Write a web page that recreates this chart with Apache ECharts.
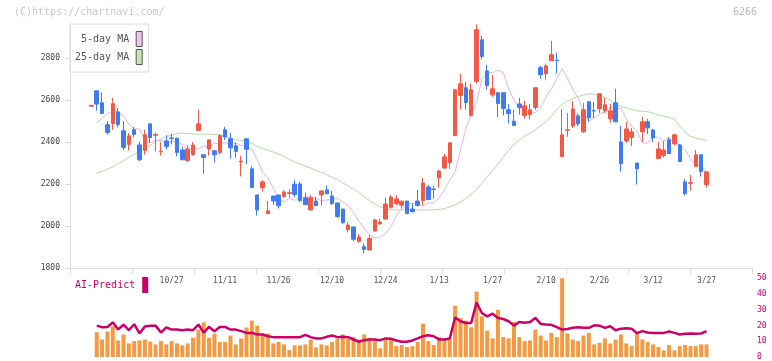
<!DOCTYPE html>
<html><head><meta charset="utf-8">
<script src="https://cdn.jsdelivr.net/npm/echarts@6/dist/echarts.min.js"></script>
<style>html,body{margin:0;padding:0;background:#fff}#c{width:772px;height:361px}</style>
</head><body><div id="c"></div>
<script>
const dates = ['10/3','10/6','10/7','10/8','10/9','10/10','10/14','10/15','10/16','10/17','10/20','10/21','10/22','10/23','10/24','10/27','10/28','10/29','10/30','10/31','11/4','11/5','11/6','11/7','11/10','11/11','11/12','11/13','11/14','11/17','11/18','11/19','11/20','11/21','11/25','11/26','11/27','11/28','12/1','12/2','12/3','12/4','12/5','12/8','12/9','12/10','12/11','12/12','12/15','12/16','12/17','12/18','12/19','12/22','12/23','12/24','12/25','12/26','12/29','12/30','1/5','1/6','1/7','1/8','1/9','1/13','1/14','1/15','1/16','1/19','1/20','1/21','1/22','1/23','1/26','1/27','1/28','1/29','1/30','2/2','2/3','2/4','2/5','2/6','2/9','2/10','2/12','2/13','2/16','2/17','2/18','2/19','2/20','2/24','2/25','2/26','2/27','3/2','3/3','3/4','3/5','3/6','3/9','3/10','3/11','3/12','3/13','3/16','3/17','3/18','3/19','3/23','3/24','3/25','3/26','3/27'];
const dateLabelIdx = [15,25,35,45,55,65,75,85,95,105,115];

const opens = [2571,2644,2587,2483,2489,2544,2454,2389,2459,2387,
2360,2487,2433,2354,2406,2420,2419,2363,2313,2341,
2456,2340,2368,2359,2351,2459,2416,2383,2306,2416,
2273,2149,2184,2060,2144,2149,2141,2156,2200,2201,
2135,2078,2120,2149,2173,2144,2111,2082,1984,1997,
1928,1903,1887,1978,2011,2035,2090,2108,2100,2120,
2082,2120,2122,2187,2177,2230,2277,2303,2431,2622,
2659,2527,2689,2887,2739,2625,2635,2635,2554,2500,
2582,2527,2531,2565,2754,2725,2787,2790,2331,2457,
2477,2525,2449,2592,2550,2558,2549,2511,2587,2401,
2406,2422,2301,2449,2497,2458,2322,2336,2411,2393,
2387,2211,2204,2284,2340,2198];
const closes = [2575,2581,2536,2446,2583,2484,2375,2430,2437,2316,
2435,2422,2436,2357,2379,2418,2351,2316,2368,2386,
2487,2327,2411,2340,2432,2424,2373,2356,2310,2366,
2184,2078,2211,2073,2120,2097,2163,2160,2151,2122,
2103,2135,2098,2168,2154,2108,2046,2017,2006,1938,
1949,1890,1943,2030,2020,2106,2139,2130,2119,2060,
2070,2098,2206,2127,2175,2263,2330,2397,2649,2678,
2589,2649,2935,2808,2670,2654,2584,2560,2536,2479,
2565,2573,2554,2659,2721,2763,2816,2788,2435,2459,
2558,2487,2554,2516,2548,2630,2578,2549,2497,2298,
2463,2449,2274,2497,2468,2420,2368,2363,2346,2435,
2308,2155,2207,2340,2260,2259];
const lows = [2570,2550,2536,2435,2459,2470,2363,2360,2424,2311,
2341,2395,2356,2337,2365,2389,2332,2316,2306,2335,
2456,2249,2337,2303,2341,2411,2321,2327,2237,2295,
2184,2051,2165,2060,2101,2084,2136,2136,2139,2117,
2103,2074,2098,2098,2154,2101,2040,2011,1970,1928,
1922,1871,1887,1973,2008,2030,2084,2100,2084,2060,
2065,2098,2101,2127,2131,2182,2273,2273,2431,2555,
2555,2522,2679,2794,2651,2616,2517,2527,2489,2479,
2531,2512,2508,2554,2701,2697,2787,2727,2331,2425,
2468,2477,2444,2497,2516,2539,2539,2492,2497,2260,
2397,2382,2198,2401,2439,2401,2322,2327,2346,2384,
2308,2146,2170,2284,2236,2184];
const highs = [2576,2644,2636,2500,2611,2562,2500,2444,2473,2402,
2459,2487,2446,2400,2433,2440,2419,2378,2386,2400,
2554,2340,2411,2359,2437,2473,2444,2398,2335,2416,
2284,2149,2219,2120,2144,2149,2171,2176,2219,2211,
2159,2149,2139,2171,2193,2168,2111,2082,2020,1997,
1963,1919,1959,2035,2036,2135,2149,2149,2122,2120,
2109,2173,2230,2197,2192,2268,2344,2397,2654,2725,
2687,2678,2960,2906,2768,2721,2640,2635,2582,2554,
2611,2597,2582,2659,2763,2773,2882,2825,2558,2539,
2596,2535,2587,2596,2592,2634,2611,2582,2654,2477,
2497,2468,2301,2520,2511,2463,2401,2406,2425,2439,
2392,2225,2244,2363,2340,2259];

const ma5 = [null,2490,2515,2535,2548,2544,2526,2485,2464,2462,
2408,2399,2408,2409,2393,2406,2402,2388,2364,2366,
2368,2382,2377,2396,2390,2399,2387,2396,2385,2379,
2366,2318,2259,2230,2182,2133,2116,2133,2123,2138,
2139,2140,2134,2122,2125,2132,2133,2115,2099,2066,
2023,1991,1960,1945,1950,1966,1998,2048,2085,2103,
2111,2104,2095,2111,2112,2135,2174,2220,2258,2363,
2463,2529,2592,2700,2732,2730,2743,2730,2655,2601,
2563,2545,2543,2541,2566,2614,2654,2703,2749,2705,
2652,2611,2545,2499,2515,2533,2547,2565,2564,2560,
2510,2477,2451,2396,2396,2430,2422,2405,2423,2393,
2386,2364,2321,2290,2289,2254];
const ma25 = [null,2252,2262,2272,2282,2298,2312,2328,2342,2356,
2370,2386,2400,2414,2426,2434,2440,2443,2441,2439,
2438,2438,2438,2437,2434,2428,2420,2412,2407,2403,
2395,2380,2370,2362,2353,2343,2332,2318,2306,2296,
2286,2277,2265,2256,2245,2232,2222,2206,2192,2176,
2160,2140,2122,2106,2092,2082,2078,2078,2078,2078,
2078,2078,2078,2078,2078,2080,2084,2092,2102,2116,
2132,2152,2175,2205,2236,2266,2296,2330,2360,2390,
2410,2428,2442,2460,2478,2498,2525,2555,2580,2596,
2608,2617,2624,2630,2628,2622,2612,2600,2582,2570,
2563,2556,2549,2547,2545,2538,2530,2524,2518,2508,
2478,2448,2428,2420,2414,2408];
const volume = [null,15.7,11.1,16.2,19.5,10.5,14.3,8.6,10.1,10.5,
11.1,9.7,8.0,10.1,8.0,10.1,8.6,7.4,8.6,12.2,
17.4,22.0,12.2,14.9,9.5,9.5,13.6,8.0,11.8,18.7,
23.1,19.9,14.9,14.9,8.6,9.5,8.0,4.4,7.4,7.4,
8.0,11.1,6.1,8.0,7.4,9.5,11.6,14.3,11.6,12.6,
11.1,14.3,12.2,10.5,5.5,11.1,11.1,6.9,7.6,6.3,
6.9,9.5,21.2,10.1,7.6,12.8,11.1,11.1,32.5,24.7,
23.1,18.9,41.5,25.8,16.8,11.8,30.0,12.6,11.8,22.2,
12.6,10.1,10.5,17.4,13.6,10.5,15.3,12.6,50,14.9,
11.1,10.1,13.6,15.3,8.0,9.0,11.8,8.6,11.1,14.3,
8.6,6.9,14.7,11.1,9.5,8.0,6.3,4.2,7.6,4.2,
6.9,7.6,6.9,6.9,8.0,8.0];
const aiPredict = [null,19.9,18.9,19.0,22.0,17.5,20.5,17.0,20.8,15.0,
19.3,19.8,19.9,15.5,18.8,17.4,17.4,17.0,17.4,17.0,
20.6,15.5,19.1,16.4,19.1,19.1,17.4,17.4,16.4,15.3,
15.3,14.3,14.3,13.2,12.6,12.6,12.6,12.6,12.6,12.6,
14.0,12.6,11.8,11.8,12.8,13.6,12.6,12.8,12.6,11.1,
9.7,10.7,11.1,11.1,10.7,11.8,11.6,10.5,9.7,9.7,
10.5,11.8,13.2,13.8,13.2,11.1,11.1,11.8,25.1,22.7,
21.6,21.6,34.6,27.9,25.8,27.5,24.8,24.1,22.7,19.9,
22.2,21.8,22.2,24.8,21.0,20.6,20.4,18.9,17.4,17.8,
18.5,18.9,18.5,18.5,20.1,19.9,18.5,19.5,17.0,18.0,
18.3,18.0,15.1,16.4,15.5,15.3,15.3,15.3,16.2,15.3,
14.3,14.7,14.9,14.7,14.9,16.4];
const priceTicks = [1800,2000,2200,2400,2600,2800];

const FONT = 'DejaVu Sans Mono';
const UP = '#f25a46', DOWN = '#3f7cf0', PINK = '#e9b2ec', GREEN = '#b3dca5', CRIMSON = '#cc0066', ORANGE = '#f39a42', AXIS = '#dddddd';

const candleData = dates.map((d, i) => [i, opens[i], closes[i], lows[i], highs[i]]);
const pairs = arr => arr.map((v, i) => [i, v]).filter(p => p[1] != null);

const chart = echarts.init(document.getElementById('c'), null, {renderer: 'canvas'});
chart.setOption({
  animation: false,
  backgroundColor: '#fff',
  title: [
    {text: '(C)https://chartnavi.com/', left: 14, top: 7, padding: 0,
     textStyle: {fontFamily: FONT, fontSize: 10, fontWeight: 'normal', color: '#c8c8c8'}},
    {text: '6266', right: 15, top: 7, padding: 0,
     textStyle: {fontFamily: FONT, fontSize: 10, fontWeight: 'normal', color: '#bbbbbb'}}
  ],
  legend: [
    {orient: 'vertical', left: 70, top: 24, align: 'right', selectedMode: false,
     borderColor: '#dcdcdc', borderWidth: 1, padding: [7, 6, 7, 5], itemGap: 2,
     itemWidth: 6, itemHeight: 15, icon: 'rect',
     textStyle: {fontFamily: FONT, fontSize: 10, color: '#555', padding: [0, 2, 0, 0]},
     data: [
       {name: '5-day MA', itemStyle: {color: '#f0c4f0', borderColor: '#555', borderWidth: 1}},
       {name: '25-day MA', itemStyle: {color: '#c4e4b4', borderColor: '#555', borderWidth: 1}}
     ]},
    {orient: 'horizontal', left: 75, top: 277, align: 'right', selectedMode: false, padding: 0,
     itemWidth: 6, itemHeight: 16, icon: 'rect',
     textStyle: {fontFamily: FONT, fontSize: 10, color: CRIMSON, padding: [0, 2, 0, 0]},
     data: [{name: 'AI-Predict', itemStyle: {color: CRIMSON}}]}
  ],
  grid: [
    {left: 70, right: 20, top: 24, height: 244.3},
    {left: 70, right: 20, top: 278.2, height: 79.5}
  ],
  xAxis: [
    {type: 'value', gridIndex: 0, min: 0, max: 11, interval: 1, position: 'bottom',
     axisLine: {show: true, lineStyle: {color: AXIS}}, axisTick: {show: true, length: 6, lineStyle: {color: AXIS}},
     axisLabel: {show: false}, splitLine: {show: false}},
    {type: 'value', gridIndex: 0, min: -4, max: 123.5, position: 'bottom',
     axisLine: {show: false}, axisTick: {show: false}, splitLine: {show: false},
     axisLabel: {show: true, customValues: dateLabelIdx, formatter: v => dates[Math.round(v)] || '',
       margin: 9, fontFamily: FONT, fontSize: 8, color: '#555'}},
    {type: 'value', gridIndex: 1, min: -4, max: 123.5, show: false}
  ],
  yAxis: [
    {type: 'value', gridIndex: 0, min: 1800, max: 2962, position: 'left',
     axisLine: {show: true, lineStyle: {color: AXIS}},
     axisTick: {show: true, length: 5, customValues: priceTicks, lineStyle: {color: AXIS}},
     axisLabel: {show: true, customValues: priceTicks, formatter: v => String(v), margin: 10,
       fontFamily: FONT, fontSize: 8, color: '#444'},
     splitLine: {show: false}},
    {type: 'value', gridIndex: 1, min: 0, max: 50, interval: 10, position: 'right',
     axisLine: {show: false}, axisTick: {show: false}, splitLine: {show: false},
     axisLabel: {show: true, margin: 5, formatter: v => String(v), fontFamily: FONT, fontSize: 8, color: CRIMSON}}
  ],
  series: [
    {name: '25-day MA', type: 'line', xAxisIndex: 1, yAxisIndex: 0, data: pairs(ma25),
     symbol: 'none', lineStyle: {color: GREEN, width: 1}, itemStyle: {color: GREEN}, z: 1},
    {name: '5-day MA', type: 'line', xAxisIndex: 1, yAxisIndex: 0, data: pairs(ma5),
     symbol: 'none', lineStyle: {color: PINK, width: 1}, itemStyle: {color: PINK}, z: 1},
    {name: 'Price', type: 'candlestick', xAxisIndex: 1, yAxisIndex: 0, data: candleData,
     encode: {x: 0, y: [1, 2, 3, 4]}, barWidth: 4, z: 3,
     itemStyle: {color: UP, color0: DOWN, borderColor: UP, borderColor0: DOWN, borderWidth: 1}},
    {name: 'Volume', type: 'bar', xAxisIndex: 2, yAxisIndex: 1, data: pairs(volume),
     barWidth: 4, itemStyle: {color: ORANGE}, z: 1},
    {name: 'AI-Predict', type: 'line', xAxisIndex: 2, yAxisIndex: 1, data: pairs(aiPredict),
     symbol: 'none', lineStyle: {color: CRIMSON, width: 2.5}, itemStyle: {color: CRIMSON}, z: 3}
  ]
});
</script>
</body></html>
